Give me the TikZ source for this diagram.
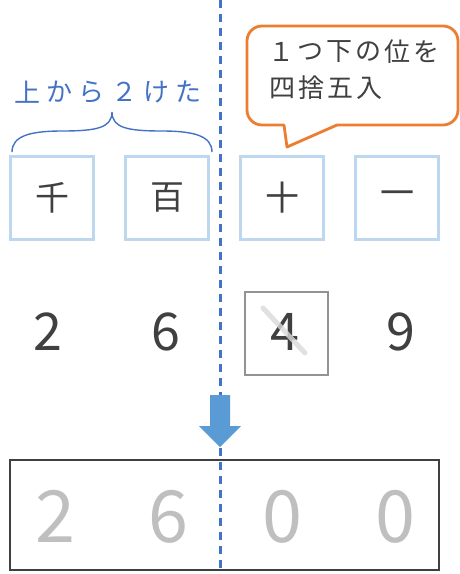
\documentclass[tikz,border=0pt]{standalone}
\usepackage{fontspec}
\setmainfont{Noto Sans CJK JP}
\definecolor{dblue}{HTML}{4472C4}
\definecolor{lblue}{HTML}{BDD7EE}
\definecolor{ablue}{HTML}{5B9BD5}
\definecolor{orng}{HTML}{ED7D31}
\definecolor{dtext}{HTML}{404040}
\definecolor{gtext}{HTML}{BFBFBF}
\begin{document}
\begin{tikzpicture}[x=1pt,y=-1pt,
  placebox/.style={draw=lblue,line width=2.5pt,minimum width=83pt,minimum height=83pt,inner sep=0pt,
     font=\fontsize{34}{34}\selectfont,text=dtext},
  digit/.style={inner sep=0pt,anchor=base,font=\fontsize{52}{52}\selectfont,text=dtext},
  bigdigit/.style={inner sep=0pt,anchor=base,font=\fontsize{72}{72}\selectfont,text=gtext},
  jp/.style={inner sep=0pt,font=\fontsize{26}{26}\selectfont},
  ]
\useasboundingbox (0,0) rectangle (460,574);
% dashed divider
\coordinate (dtop) at (220,0);
\coordinate (dbot) at (220,574);
\draw[dblue,line width=3pt,dash pattern=on 8pt off 6pt] (dtop) -- (dbot);
% label above
\foreach \c/\x in {上/28,か/59,ら/91,２/124,け/156,た/188}
  \node[jp,text=dblue] at (\x,92) {\c};
% brace
\draw[dblue,line width=1.4pt] (12,152) .. controls (12,136) and (30,131) .. (62,131)
   .. controls (96,131) and (112,128) .. (112,112)
   .. controls (112,128) and (128,131) .. (162,131)
   .. controls (194,131) and (212,136) .. (212,152);
% callout
\draw[orng,line width=2.8pt,line join=round] (287,147) -- (284,125) [rounded corners=15pt] -- (247,125) -- (247,26) -- (458,26) -- (458,125) [sharp corners] -- (337,125) -- cycle;
\foreach \c/\x in {１/281,つ/310,下/339,の/368,位/397,を/426}
  \node[jp,text=dtext] at (\x,52) {\c};
\foreach \c/\x in {四/282,捨/311,五/340,入/369}
  \node[jp,text=dtext] at (\x,88) {\c};
% place value boxes
\node[placebox] (th) at (52,198) {千};
\node[placebox] (hu) at (167,198) {百};
\node[placebox] (te) at (282,198) {十};
\node[placebox] (on) at (397,198) {一};
% digits
\node[digit] (d2) at (48,350) {2};
\node[digit] (d6) at (166,350) {6};
\node[digit] (d4) at (285,350) {4};
\node[digit] (d9) at (401,350) {9};
\draw[draw=gray!85,line width=2pt] (245,292) rectangle (328,375);
\draw[gray!30,line width=5pt,line cap=round,opacity=0.8] (263,308) -- (305,353);
% arrow
\fill[ablue] (210,395) -- (230,395) -- (230,426) -- (241,426) -- (220,447) -- (199,426) -- (210,426) -- cycle;
% result box
\draw[dtext,line width=2.5pt] (10,460) rectangle (439,570);
\node[bigdigit] (r2) at (55,542) {2};
\node[bigdigit] (r6) at (168,542) {6};
\node[bigdigit] (r0a) at (282,542) {0};
\node[bigdigit] (r0b) at (395,542) {0};
\end{tikzpicture}
\end{document}
